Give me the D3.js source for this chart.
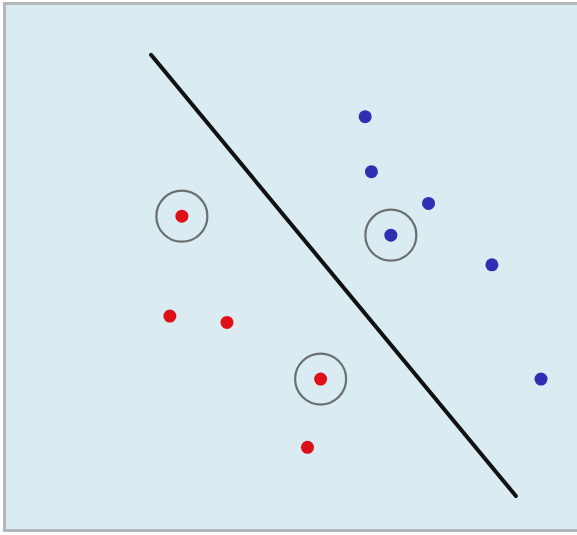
<!DOCTYPE html>
<html>
<head>
<meta charset="utf-8">
<script src="https://cdn.jsdelivr.net/npm/d3@7"></script>
<style>
  html, body { margin: 0; padding: 0; background: #fff; }
  svg { display: block; }
</style>
</head>
<body>
<div id="chart"></div>
<script>
// class A (red) and class B (blue) samples, in feature units 0..100
var redX = [30.8, 28.7, 38.7, 55.1, 52.8];
var redY = [59.9, 41.0, 39.8, 29.1, 16.2];
var blueX = [62.9, 64.0, 74.0, 67.4, 85.1, 93.7];
var blueY = [78.7, 68.3, 62.3, 56.3, 50.7, 29.1];
// support vectors (circled)
var svX = [30.8, 55.1, 67.4];
var svY = [59.9, 29.1, 56.3];
// separating line end points
var lineX = [25.4, 89.3];
var lineY = [90.4, 7.0];

var width = 577, height = 535;

var svg = d3.select("#chart").append("svg").attr("width", width).attr("height", height);

var x = d3.scaleLinear().domain([0, 100]).range([6, 577]);
var y = d3.scaleLinear().domain([0, 100]).range([533, 4]);

// panel
svg.append("rect")
  .attr("x", 4.5).attr("y", 3.5)
  .attr("width", 590).attr("height", 527)
  .attr("fill", "#daecf2")
  .attr("stroke", "#b4b8ba")
  .attr("stroke-width", 3);

var zip = function (xs, ys) {
  return xs.map(function (d, i) { return [d, ys[i]]; });
};

svg.append("path")
  .datum(zip(lineX, lineY))
  .attr("d", d3.line().x(function (d) { return x(d[0]); }).y(function (d) { return y(d[1]); }))
  .attr("stroke", "#111")
  .attr("stroke-width", 4)
  .attr("stroke-linecap", "round")
  .attr("fill", "none");

svg.append("g").selectAll("circle")
  .data(zip(svX, svY))
  .enter().append("circle")
  .attr("cx", function (d) { return x(d[0]); })
  .attr("cy", function (d) { return y(d[1]); })
  .attr("r", 25.5)
  .attr("fill", "none")
  .attr("stroke", "#6b6f70")
  .attr("stroke-width", 2.2);

svg.append("g").selectAll("circle")
  .data(zip(redX, redY))
  .enter().append("circle")
  .attr("cx", function (d) { return x(d[0]); })
  .attr("cy", function (d) { return y(d[1]); })
  .attr("r", 6.5)
  .attr("fill", "#dd1018");

svg.append("g").selectAll("circle")
  .data(zip(blueX, blueY))
  .enter().append("circle")
  .attr("cx", function (d) { return x(d[0]); })
  .attr("cy", function (d) { return y(d[1]); })
  .attr("r", 6.5)
  .attr("fill", "#2f2fb4");
</script>
</body>
</html>
